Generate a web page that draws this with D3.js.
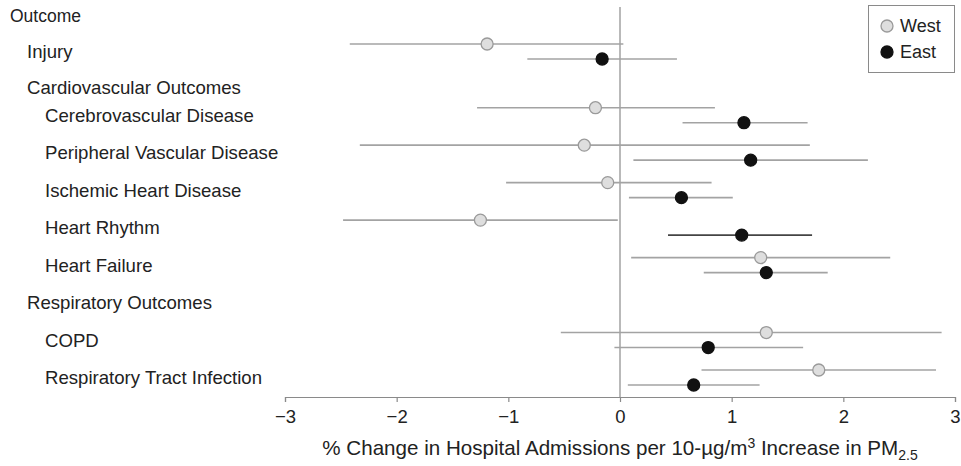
<!DOCTYPE html>
<html><head><meta charset="utf-8">
<script src="https://cdn.jsdelivr.net/npm/d3@7"></script>
<style>
html,body{margin:0;padding:0;background:#fff;}
svg{display:block;font-family:"Liberation Sans",Arial,Helvetica,sans-serif;}
</style></head>
<body>
<svg id="chart" width="961" height="466"></svg>
<script>
// ---- data ----
const rowLabels = ["Outcome","Injury","Cardiovascular Outcomes","Cerebrovascular Disease",
  "Peripheral Vascular Disease","Ischemic Heart Disease","Heart Rhythm","Heart Failure",
  "Respiratory Outcomes","COPD","Respiratory Tract Infection"];
const rowLevels = [0,1,1,2,2,2,2,2,1,2,2];
const outcomes = ["Injury","Cerebrovascular Disease","Peripheral Vascular Disease",
  "Ischemic Heart Disease","Heart Rhythm","Heart Failure","COPD","Respiratory Tract Infection"];
const westEst = [-1.19,-0.22,-0.32,-0.11,-1.25,1.26,1.31,1.78];
const westLo  = [-2.42,-1.28,-2.33,-1.02,-2.48,0.10,-0.53,0.73];
const westHi  = [ 0.03, 0.85, 1.70, 0.82,-0.02,2.42,2.88,2.83];
const eastEst = [-0.16,1.11,1.17,0.55,1.09,1.31,0.79,0.66];
const eastLo  = [-0.83,0.56,0.12,0.08,0.43,0.75,-0.05,0.07];
const eastHi  = [ 0.51,1.68,2.22,1.01,1.72,1.86,1.64,1.25];
const seriesNames = ["West","East"];
const xTicks = [-3,-2,-1,0,1,2,3];

// ---- styles ----
const fills = {West:"#dedede", East:"#111"};
const strokes = {West:"#9a9a9a", East:"#111"};
const darkLines = ["Heart Rhythm|East"];
const labelSize = [17.5, 18.6, 18.6];

const svg = d3.select("#chart");
const W = 961, H = 466;
const margin = {left:285, right:6, axisY:397};

const x = d3.scaleLinear().domain([-3,3]).range([margin.left, W - margin.right]);
// piecewise row scale: header rows are a bit tighter than item rows
const y = d3.scaleLinear().domain([0,2,3,10]).range([16,87,115.2,377.5]);
const off = d3.scaleOrdinal().domain(seriesNames).range([-7.5,7.5]);

// zero line
svg.append("line")
  .attr("x1", x(0)).attr("x2", x(0))
  .attr("y1", 7).attr("y2", margin.axisY)
  .attr("stroke", "#8a8a8a").attr("stroke-width", 1.2);

// row labels
svg.append("g").selectAll("text").data(rowLabels).join("text")
  .attr("x", (d,i) => [10,27,45][rowLevels[i]])
  .attr("y", (d,i) => y(i))
  .attr("dy", "0.35em")
  .attr("font-size", (d,i) => labelSize[rowLevels[i]])
  .attr("fill", "#222")
  .text(d => d);

// build records
const recs = [];
outcomes.forEach((o,i) => {
  const r = rowLabels.indexOf(o);
  recs.push({o, s:"West", r, est:westEst[i], lo:westLo[i], hi:westHi[i]});
  recs.push({o, s:"East", r, est:eastEst[i], lo:eastLo[i], hi:eastHi[i]});
});

const g = svg.append("g");
g.selectAll("line.ci").data(recs).join("line")
  .attr("class","ci")
  .attr("x1", d => x(d.lo)).attr("x2", d => x(d.hi))
  .attr("y1", d => y(d.r) + off(d.s)).attr("y2", d => y(d.r) + off(d.s))
  .attr("stroke", d => darkLines.includes(d.o + "|" + d.s) ? "#444" : "#a3a3a3")
  .attr("stroke-width", 1.6);
g.selectAll("circle").data(recs).join("circle")
  .attr("cx", d => x(d.est)).attr("cy", d => y(d.r) + off(d.s))
  .attr("r", 6)
  .attr("fill", d => fills[d.s])
  .attr("stroke", d => strokes[d.s]).attr("stroke-width", 1.3);

// x axis
const ax = svg.append("g").attr("transform", `translate(0,${margin.axisY})`)
  .call(d3.axisBottom(x).tickValues(xTicks).tickFormat(d3.format("d")).tickSize(5).tickPadding(8));
ax.select(".domain").attr("stroke","#8a8a8a").attr("stroke-width",1.2);
ax.selectAll(".tick line").attr("stroke","#8a8a8a").attr("stroke-width",1.2);
ax.selectAll(".tick text").attr("font-size",18.5).attr("fill","#222")
  .attr("font-family","Liberation Sans, Arial, sans-serif");

// axis title
const t = svg.append("text")
  .attr("x", x(0)).attr("y", 455)
  .attr("text-anchor","middle").attr("font-size",20.6).attr("fill","#222");
t.append("tspan").text("% Change in Hospital Admissions per 10-µg/m");
t.append("tspan").attr("font-size",14).attr("dy",-7).text("3");
t.append("tspan").attr("dy",7).text(" Increase in PM");
t.append("tspan").attr("font-size",14).attr("dy",5).text("2.5");

// legend
const lg = svg.append("g");
lg.append("rect").attr("x",868.5).attr("y",5.5).attr("width",86).attr("height",67)
  .attr("fill","#fff").attr("stroke","#8a8a8a").attr("stroke-width",1);
const li = lg.selectAll("g.item").data(seriesNames).join("g")
  .attr("class","item")
  .attr("transform",(d,i) => `translate(887,${26 + i*26})`);
li.append("circle").attr("r",6).attr("fill",d=>fills[d]).attr("stroke",d=>strokes[d]).attr("stroke-width",1.3);
li.append("text").attr("x",13).attr("dy","0.35em").attr("font-size",18).attr("fill","#222").text(d=>d);
</script>
</body></html>
